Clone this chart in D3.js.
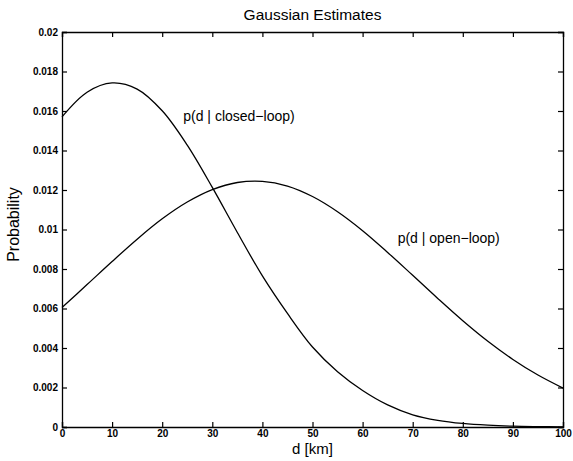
<!DOCTYPE html>
<html>
<head>
<meta charset="utf-8">
<script src="https://cdn.jsdelivr.net/npm/d3@7"></script>
<style>
  body { margin: 0; background: #fff; }
  text { font-family: "Liberation Sans", Arial, sans-serif; fill: #000; }
</style>
</head>
<body>
<div id="chart"></div>
<script>
const margin = { top: 32, right: 10, bottom: 34, left: 62 },
  width = 573 - margin.left - margin.right,
  height = 461 - margin.top - margin.bottom;

// values
const distances = [0, 5, 10, 15, 20, 25, 30, 35, 40, 45, 50, 55, 60, 65, 70, 75, 80, 85, 90, 95, 100];
const closedLoop = [0.01570, 0.01695, 0.01742, 0.01711, 0.01601, 0.01427, 0.01213, 0.00985, 0.00765, 0.00575,
  0.00405, 0.00280, 0.00185, 0.00112, 0.00062, 0.00034, 0.00018, 0.00009, 0.00004, 0.00002, 0.00001];
const openLoop = [0.00605, 0.00721, 0.00838, 0.00951, 0.01054, 0.01139, 0.01202, 0.01238, 0.01244, 0.01220,
  0.01167, 0.01090, 0.00994, 0.00884, 0.00768, 0.00651, 0.00538, 0.00434, 0.00342, 0.00263, 0.00197];
const xTicks = [0, 10, 20, 30, 40, 50, 60, 70, 80, 90, 100];
const yTicks = [0, 0.002, 0.004, 0.006, 0.008, 0.01, 0.012, 0.014, 0.016, 0.018, 0.02];
const yTickLabels = ["0", "0.002", "0.004", "0.006", "0.008", "0.01", "0.012", "0.014", "0.016", "0.018", "0.02"];

const svg = d3.select("#chart")
  .append("svg")
  .attr("width", width + margin.left + margin.right)
  .attr("height", height + margin.top + margin.bottom)
  .append("g")
  .attr("transform", `translate(${margin.left},${margin.top})`);

const x = d3.scaleLinear().domain([0, 100]).range([0, width]);
const y = d3.scaleLinear().domain([0, 0.02]).range([height, 0]);

// box with inward ticks on all four sides
svg.append("g")
  .attr("transform", `translate(0,${height})`)
  .call(d3.axisBottom(x).tickValues(xTicks).tickSize(-5).tickPadding(3))
  .call(g => g.selectAll("text").style("font-size", "10px").style("font-weight", "bold"));
svg.append("g")
  .call(d3.axisTop(x).tickValues(xTicks).tickSize(-5).tickFormat(""));
svg.append("g")
  .call(d3.axisLeft(y).tickValues(yTicks).tickSize(-5).tickPadding(4)
    .tickFormat((d, i) => yTickLabels[i]))
  .call(g => g.selectAll("text").style("font-size", "10px").style("font-weight", "bold"));
svg.append("g")
  .attr("transform", `translate(${width},0)`)
  .call(d3.axisRight(y).tickValues(yTicks).tickSize(-5).tickFormat(""));
svg.selectAll(".domain").attr("stroke", "#000").attr("stroke-width", 1.3);
svg.selectAll(".tick line").attr("stroke", "#000").attr("stroke-width", 1.2);

const line = d3.line()
  .x((d, i) => x(distances[i]))
  .y(d => y(d))
  .curve(d3.curveCatmullRom);

svg.append("path")
  .datum(closedLoop)
  .attr("fill", "none")
  .attr("stroke", "#000")
  .attr("stroke-width", 1.3)
  .attr("d", line);

svg.append("path")
  .datum(openLoop)
  .attr("fill", "none")
  .attr("stroke", "#000")
  .attr("stroke-width", 1.3)
  .attr("d", line);

// labels
svg.append("text")
  .attr("x", width / 2)
  .attr("y", -12)
  .attr("text-anchor", "middle")
  .style("font-size", "15.5px")
  .text("Gaussian Estimates");

svg.append("text")
  .attr("x", width / 2)
  .attr("y", height + 27)
  .attr("text-anchor", "middle")
  .style("font-size", "15px")
  .text("d [km]");

svg.append("text")
  .attr("transform", `translate(${-43},${height / 2 - 5}) rotate(-90)`)
  .attr("text-anchor", "middle")
  .style("font-size", "16px")
  .text("Probability");

svg.append("text")
  .attr("x", x(24.2))
  .attr("y", y(0.0155))
  .style("font-size", "14px")
  .text("p(d | closed\u2212loop)");

svg.append("text")
  .attr("x", x(67))
  .attr("y", y(0.0093))
  .style("font-size", "14px")
  .text("p(d | open\u2212loop)");
</script>
</body>
</html>
